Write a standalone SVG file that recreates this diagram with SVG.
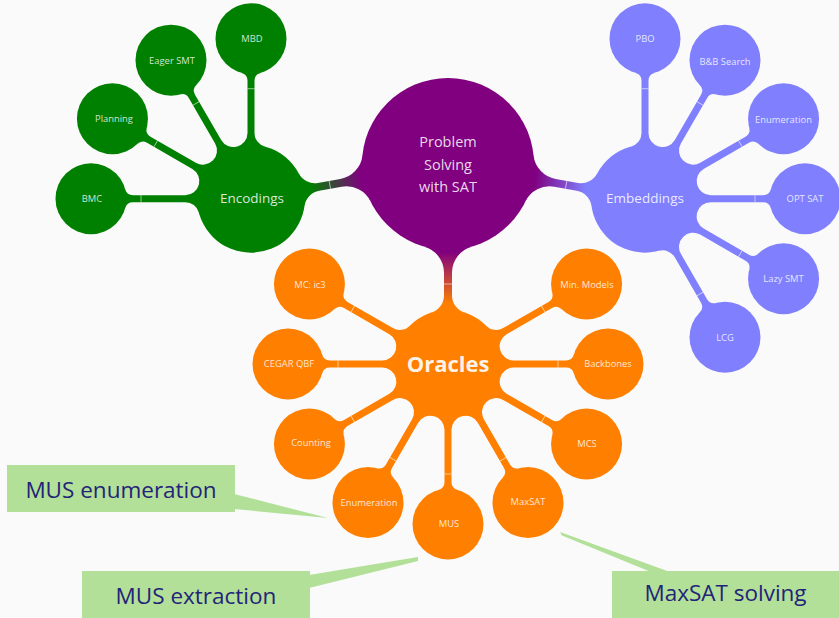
<svg xmlns="http://www.w3.org/2000/svg" xmlns:xlink="http://www.w3.org/1999/xlink" width="839" height="618" viewBox="0 0 839 618">
<style>
.lbl{font-family:"Open Sans","Noto Sans","Liberation Sans",sans-serif;font-size:9.4px;fill:#ffffff;fill-opacity:0.82;text-anchor:middle}
.hub{font-family:"Open Sans","Noto Sans","Liberation Sans",sans-serif;font-size:13.5px;fill:#ffffff;fill-opacity:0.85;text-anchor:middle}
.root{font-family:"Open Sans","Noto Sans","Liberation Sans",sans-serif;font-size:14.5px;fill:#ffffff;fill-opacity:0.85;text-anchor:middle}
.bold{font-family:"Open Sans","Noto Sans","Liberation Sans",sans-serif;font-size:22px;font-weight:bold;fill:#ffffff;fill-opacity:0.92;text-anchor:middle}
.call{font-family:"Open Sans","Noto Sans","Liberation Sans",sans-serif;font-size:22.5px;fill:#232378;text-anchor:middle}
.box{fill:#b2e098}
.tick{stroke:#ffffff;stroke-opacity:0.7;stroke-width:0.8}
.green{fill:#008000}
.blue{fill:#8080ff}
.orange{fill:#ff8000}
</style>
<defs>
<linearGradient id="gEnc" gradientUnits="userSpaceOnUse" x1="88" y1="0" x2="140" y2="0"><stop offset="0" stop-color="#800080"/><stop offset="1" stop-color="#008000"/></linearGradient>
<linearGradient id="gEmb" gradientUnits="userSpaceOnUse" x1="88" y1="0" x2="140" y2="0"><stop offset="0" stop-color="#800080"/><stop offset="1" stop-color="#8080ff"/></linearGradient>
<linearGradient id="gOra" gradientUnits="userSpaceOnUse" x1="88" y1="0" x2="140" y2="0"><stop offset="0" stop-color="#800080"/><stop offset="1" stop-color="#ff8000"/></linearGradient>
<g id="stem">
<path d="M 52.17 13.90 A 14 14 0 0 1 65.7 3.5 L 118.05 3.5 A 8 8 0 0 1 125.77 9.39 L 125.77 -9.39 A 8 8 0 0 1 118.05 -3.5 L 65.7 -3.5 A 14 14 0 0 1 52.17 -13.90 Z"/>
<line class="tick" x1="110" y1="-3.5" x2="110" y2="3.5"/>
</g>
</defs>
<rect width="839" height="618" fill="#fafafa"/>

<g id="connectors">
<g transform="translate(448,164) rotate(170)"><path d="M 82.70 23.59 A 27 27 0 0 1 108.66 4 L 131.44 4 A 18 18 0 0 1 148.58 16.5 L 148.58 -16.5 A 18 18 0 0 1 131.44 -4 L 108.66 -4 A 27 27 0 0 1 82.70 -23.59 Z" fill="url(#gEnc)"/><line class="tick" x1="120" y1="-4" x2="120" y2="4"/></g>
<g transform="translate(448,164) rotate(10)"><path d="M 82.70 23.59 A 27 27 0 0 1 108.66 4 L 131.44 4 A 18 18 0 0 1 148.58 16.5 L 148.58 -16.5 A 18 18 0 0 1 131.44 -4 L 108.66 -4 A 27 27 0 0 1 82.70 -23.59 Z" fill="url(#gEmb)"/><line class="tick" x1="120" y1="-4" x2="120" y2="4"/></g>
<g transform="translate(448,164) rotate(90)"><path d="M 82.70 23.59 A 27 27 0 0 1 108.66 4 L 131.44 4 A 18 18 0 0 1 148.58 16.5 L 148.58 -16.5 A 18 18 0 0 1 131.44 -4 L 108.66 -4 A 27 27 0 0 1 82.70 -23.59 Z" fill="url(#gOra)"/><line class="tick" x1="120" y1="-4" x2="120" y2="4"/></g>

<g class="green">
<use xlink:href="#stem" transform="translate(251,198.7) rotate(180)"/>
<use xlink:href="#stem" transform="translate(251,198.7) rotate(210)"/>
<use xlink:href="#stem" transform="translate(251,198.7) rotate(240)"/>
<use xlink:href="#stem" transform="translate(251,198.7) rotate(270)"/>
</g>
<g class="blue">
<use xlink:href="#stem" transform="translate(645,198.7) rotate(-90)"/>
<use xlink:href="#stem" transform="translate(645,198.7) rotate(-60)"/>
<use xlink:href="#stem" transform="translate(645,198.7) rotate(-30)"/>
<use xlink:href="#stem" transform="translate(645,198.7) rotate(0)"/>
<use xlink:href="#stem" transform="translate(645,198.7) rotate(30)"/>
<use xlink:href="#stem" transform="translate(645,198.7) rotate(60)"/>
</g>
<g class="orange">
<use xlink:href="#stem" transform="translate(448,364) rotate(-150)"/>
<use xlink:href="#stem" transform="translate(448,364) rotate(180)"/>
<use xlink:href="#stem" transform="translate(448,364) rotate(150)"/>
<use xlink:href="#stem" transform="translate(448,364) rotate(120)"/>
<use xlink:href="#stem" transform="translate(448,364) rotate(90)"/>
<use xlink:href="#stem" transform="translate(448,364) rotate(60)"/>
<use xlink:href="#stem" transform="translate(448,364) rotate(30)"/>
<use xlink:href="#stem" transform="translate(448,364) rotate(0)"/>
<use xlink:href="#stem" transform="translate(448,364) rotate(-30)"/>
</g>
</g>

<g id="root"><circle cx="448" cy="164" r="86" fill="#800080"/><text class="root" x="448" y="147">Problem</text><text class="root" x="448" y="170">Solving</text><text class="root" x="448" y="192">with SAT</text></g>

<g id="encodings"><circle class="green" cx="251" cy="198.7" r="54"/><text class="hub" x="252" y="203">Encodings</text></g>
<g id="bmc"><circle class="green" cx="91" cy="198.7" r="35.5"/><text class="lbl" x="92" y="202">BMC</text></g>
<g id="planning"><circle class="green" cx="112.44" cy="118.7" r="35.5"/><text class="lbl" x="114" y="122">Planning</text></g>
<g id="eager-smt"><circle class="green" cx="171" cy="60.14" r="35.5"/><text class="lbl" x="172" y="63.5">Eager SMT</text></g>
<g id="mbd"><circle class="green" cx="251" cy="38.7" r="35.5"/><text class="lbl" x="252" y="42">MBD</text></g>

<g id="embeddings"><circle class="blue" cx="645" cy="198.7" r="54"/><text class="hub" x="645" y="203">Embeddings</text></g>
<g id="pbo"><circle class="blue" cx="645" cy="38.7" r="35.5"/><text class="lbl" x="645" y="42">PBO</text></g>
<g id="bb-search"><circle class="blue" cx="725" cy="60.14" r="35.5"/><text class="lbl" x="725" y="64.5">B&amp;B Search</text></g>
<g id="enumeration-emb"><circle class="blue" cx="783.56" cy="118.7" r="35.5"/><text class="lbl" x="783.5" y="122.5">Enumeration</text></g>
<g id="opt-sat"><circle class="blue" cx="805" cy="198.7" r="35.5"/><text class="lbl" x="805" y="202">OPT SAT</text></g>
<g id="lazy-smt"><circle class="blue" cx="783.56" cy="278.7" r="35.5"/><text class="lbl" x="783.5" y="281.5">Lazy SMT</text></g>
<g id="lcg"><circle class="blue" cx="725" cy="337.26" r="35.5"/><text class="lbl" x="725" y="341">LCG</text></g>

<g id="oracles"><circle class="orange" cx="448" cy="364" r="54"/><text class="bold" x="448" y="372">Oracles</text></g>
<g id="mc-ic3"><circle class="orange" cx="309.44" cy="284" r="35.5"/><text class="lbl" x="310" y="287.5">MC: ic3</text></g>
<g id="cegar-qbf"><circle class="orange" cx="288" cy="364" r="35.5"/><text class="lbl" x="289" y="367">CEGAR QBF</text></g>
<g id="counting"><circle class="orange" cx="309.44" cy="444" r="35.5"/><text class="lbl" x="311" y="446">Counting</text></g>
<g id="enumeration-ora"><circle class="orange" cx="368" cy="502.56" r="35.5"/><text class="lbl" x="369" y="505.5">Enumeration</text></g>
<g id="mus"><circle class="orange" cx="448" cy="524" r="35.5"/><text class="lbl" x="449" y="527">MUS</text></g>
<g id="maxsat"><circle class="orange" cx="528" cy="502.56" r="35.5"/><text class="lbl" x="528" y="505">MaxSAT</text></g>
<g id="mcs"><circle class="orange" cx="586.56" cy="444" r="35.5"/><text class="lbl" x="587" y="447">MCS</text></g>
<g id="backbones"><circle class="orange" cx="608" cy="364" r="35.5"/><text class="lbl" x="608" y="367">Backbones</text></g>
<g id="min-models"><circle class="orange" cx="586.56" cy="284" r="35.5"/><text class="lbl" x="587" y="287.5">Min. Models</text></g>

<g id="callout-mus-enumeration"><polygon class="box" points="234,494 328,518 234,509"/><rect class="box" x="7" y="465" width="228" height="47"/><text class="call" x="121" y="498">MUS enumeration</text></g>
<g id="callout-mus-extraction"><polygon class="box" points="309,575 418,557 418,561 309,588"/><rect class="box" x="82" y="571" width="228" height="47"/><text class="call" x="196" y="604">MUS extraction</text></g>
<g id="callout-maxsat-solving"><polygon class="box" points="560,532 562,535.5 651,572 670,572"/><rect class="box" x="612" y="571" width="227" height="47"/><text class="call" x="725.5" y="600.5">MaxSAT solving</text></g>
</svg>
